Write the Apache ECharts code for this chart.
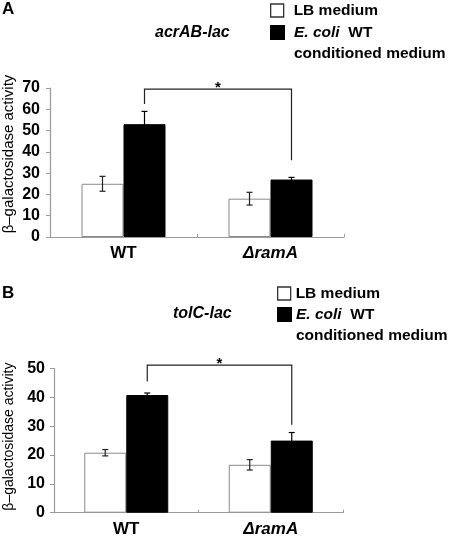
<!DOCTYPE html>
<html><head><meta charset="utf-8">
<script src="https://cdn.jsdelivr.net/npm/echarts@6/dist/echarts.min.js"></script>
<style>html,body{margin:0;padding:0;background:#fff}#c{width:454px;height:537px}</style>
</head><body><div id="c"></div>
<script>
// ---- data ----
const categories = ['WT', 'ΔramA'];
const lbName = 'LB medium';
const cmName = 'E. coli WT conditioned medium';
// Panel A (acrAB-lac)
const aLB = [25, 18];
const aLBErr = [3.5, 3];
const aCM = [53, 27];
const aCMErr = [6, 1];
const aBracket = [69.5, 62.5, 36];   // top, left leg end, right leg end
const aMax = 70;
// Panel B (tolC-lac)
const bLB = [20.8, 16.6];
const bLBErr = [1.1, 1.8];
const bCM = [40.8, 25];
const bCMErr = [0.7, 2.8];
const bBracket = [51.2, 45.5, 30.5];
const bMax = 50;
const tickStep = 10;

const FONT = 'Liberation Sans, Arial, sans-serif';
const BW = 42;

const chart = echarts.init(document.getElementById('c'), null, {renderer: 'canvas'});

function errData(vals, errs) { return vals.map((v, i) => [i, v, errs[i]]); }

function errSeries(vals, errs, axis, off, color) {
  return {
    type: 'custom', xAxisIndex: axis, yAxisIndex: axis, z: 5, silent: true,
    data: errData(vals, errs),
    encode: {x: 0, y: 1},
    renderItem: (params, api) => {
      const c = api.value(0), v = api.value(1), e = api.value(2);
      const t = api.coord([c, v + e]);
      const b = api.coord([c, v - e]);
      const x = t[0] + off;
      const st = {stroke: color, lineWidth: 1.2, fill: null};
      return {type: 'group', children: [
        {type: 'line', shape: {x1: x, y1: t[1], x2: x, y2: b[1]}, style: st},
        {type: 'line', shape: {x1: x - 3, y1: t[1], x2: x + 3, y2: t[1]}, style: st},
        {type: 'line', shape: {x1: x - 3, y1: b[1], x2: x + 3, y2: b[1]}, style: st}
      ]};
    }
  };
}

function bracketSeries(br, axis) {
  return {
    type: 'custom', xAxisIndex: axis, yAxisIndex: axis, z: 6, silent: true,
    data: [[0, 1, br[0], br[1], br[2]]],
    renderItem: (params, api) => {
      const top = api.value(2);
      const l = api.coord([api.value(0), top]);
      const r = api.coord([api.value(1), top]);
      const lEnd = api.coord([api.value(0), api.value(3)]);
      const rEnd = api.coord([api.value(1), api.value(4)]);
      const xl = l[0] + BW / 2, xr = r[0] + BW / 2;
      return {type: 'group', children: [
        {type: 'polyline', shape: {points: [[xl, lEnd[1]], [xl, l[1]], [xr, r[1]], [xr, rEnd[1]]]},
         style: {stroke: '#222', lineWidth: 1.2, fill: null}},
        {type: 'text', style: {x: (xl + xr) / 2, y: l[1] - 1, text: '*', fill: '#000',
          font: 'bold 15px ' + FONT, align: 'center', verticalAlign: 'middle'}}
      ]};
    }
  };
}

function xAxis(grid) {
  return {
    type: 'category', gridIndex: grid, data: categories,
    axisLine: {lineStyle: {color: '#9a9a9a', width: 1.2}},
    axisTick: {show: true, inside: true, length: 3, interval: 0, lineStyle: {color: '#9a9a9a'}},
    axisLabel: {
      margin: 8, fontSize: 17, fontWeight: 'bold', color: '#000', fontFamily: FONT,
      formatter: v => v === 'ΔramA' ? '{i|ΔramA}' : v,
      rich: {i: {fontSize: 17, fontWeight: 'bold', fontStyle: 'italic', color: '#000', fontFamily: FONT}}
    }
  };
}

function yAxis(grid, max, margin, gap, nameSize, shift) {
  return {
    type: 'value', gridIndex: grid, min: 0, max: max, interval: tickStep,
    name: 'β–galactosidase activity', nameLocation: 'middle', nameGap: gap, nameRotate: 90,
    nameMoveOverlap: false,
    nameTextStyle: {fontSize: nameSize, color: '#000', fontFamily: FONT, padding: [0, 0, 0, shift]},
    splitLine: {show: false},
    axisLine: {show: true, lineStyle: {color: '#9a9a9a', width: 1.2}},
    axisTick: {show: true, length: 4, lineStyle: {color: '#9a9a9a'}},
    axisLabel: {margin: margin, fontSize: 16, fontWeight: 'bold', color: '#000', fontFamily: FONT}
  };
}

function legends(left, top1, top2, pad) {
  const base = {
    orient: 'vertical', left: left, padding: 0, icon: 'rect', itemWidth: 13, itemHeight: 13,
    selectedMode: false,
    textStyle: {fontSize: 15.5, fontWeight: 'bold', color: '#000', fontFamily: FONT, lineHeight: 21,
      padding: [0, 0, 0, pad],
      rich: {i: {fontSize: 15.5, fontWeight: 'bold', fontStyle: 'italic', color: '#000', fontFamily: FONT, lineHeight: 21},
             n: {fontSize: 15.5, fontWeight: 'bold', color: '#000', fontFamily: FONT, lineHeight: 21}}}
  };
  return [
    Object.assign({}, base, {top: top1, data: [{name: lbName, itemStyle: {color: '#fff', borderColor: '#333', borderWidth: 1.3}}]}),
    Object.assign({}, base, {top: top2, data: [{name: cmName, itemStyle: {color: '#000'}}],
      formatter: () => ' \n{i|E. coli}{n|  WT}\n{n|conditioned medium}'})
  ];
}

function bars(vals, name, axis, color, border) {
  return {
    type: 'bar', name: name, xAxisIndex: axis, yAxisIndex: axis, data: vals,
    barWidth: BW, barGap: '0%', silent: true,
    itemStyle: {color: color, borderColor: border, borderWidth: 1}
  };
}

const titleStyle = {fontSize: 17, fontWeight: 'bold', color: '#000', fontFamily: FONT};
const subStyle = {fontSize: 16, fontWeight: 'bold', fontStyle: 'italic', color: '#000', fontFamily: FONT};

const option = {
  animation: false,
  backgroundColor: '#fff',
  textStyle: {fontFamily: FONT},
  title: [
    {text: 'A', left: 2, top: 1, padding: 0, textStyle: titleStyle},
    {text: 'acrAB-lac', left: 155, top: 25, padding: 0, textStyle: subStyle},
    {text: 'B', left: 2, top: 285, padding: 0, textStyle: titleStyle},
    {text: 'tolC-lac', left: 173, top: 306, padding: 0, textStyle: subStyle}
  ],
  legend: legends(270, 0, 1, 5).concat(legends(277, 283, 283, 0)),
  grid: [
    {left: 50, right: 110, top: 88, bottom: 300, containLabel: false, outerBoundsMode: 'none'},
    {left: 54, right: 111, top: 368.5, bottom: 24.3, containLabel: false, outerBoundsMode: 'none'}
  ],
  xAxis: [xAxis(0), xAxis(1)],
  yAxis: [yAxis(0, aMax, 10, 34, 15, 17), yAxis(1, bMax, 9, 38, 14, 8)],
  series: [
    bars(aLB, lbName, 0, '#fff', '#8a8a8a'),
    bars(aCM, cmName, 0, '#000', '#000'),
    errSeries(aLB, aLBErr, 0, -BW / 2, '#222'),
    errSeries(aCM, aCMErr, 0, BW / 2, '#000'),
    bracketSeries(aBracket, 0),
    bars(bLB, lbName, 1, '#fff', '#8a8a8a'),
    bars(bCM, cmName, 1, '#000', '#000'),
    errSeries(bLB, bLBErr, 1, -BW / 2, '#222'),
    errSeries(bCM, bCMErr, 1, BW / 2, '#000'),
    bracketSeries(bBracket, 1)
  ]
};
chart.setOption(option);
</script>
</body></html>
